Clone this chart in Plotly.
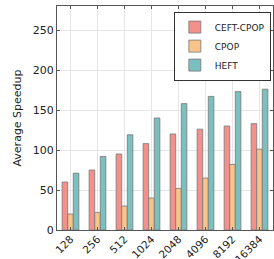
import plotly.graph_objects as go

categories = ["128", "256", "512", "1024", "2048", "4096", "8192", "16384"]
ceft_cpop = [60, 75, 95, 108, 120, 126, 130, 133]
cpop = [20, 22, 30, 40, 52, 65, 82, 101]
heft = [71, 92, 119, 140, 158, 167, 173, 176]

series = [
    ("CEFT-CPOP", ceft_cpop, "#F4908C"),
    ("CPOP", cpop, "#F9C48A"),
    ("HEFT", heft, "#7CBFBF"),
]

fig = go.Figure()
for name, vals, color in series:
    fig.add_trace(go.Bar(
        x=categories, y=vals, name=name,
        marker=dict(color=color, line=dict(color="#777777", width=0.8)),
    ))

fig.update_layout(
    width=274, height=259,
    margin=dict(l=57, r=1, t=6, b=29, autoexpand=False),
    paper_bgcolor="white", plot_bgcolor="white",
    barmode="group", bargap=0.38, bargroupgap=0,
    font=dict(family="DejaVu Sans", size=11, color="#222222"),
    showlegend=True,
    legend=dict(
        x=0.99, y=0.975, xanchor="right", yanchor="top",
        bgcolor="white", bordercolor="#333333", borderwidth=1,
        font=dict(size=9), tracegroupgap=0, itemwidth=30,
    ),
)
fig.update_xaxes(
    type="category", range=[-0.5, 7.5],
    tickangle=-45, tickfont=dict(size=10.5), ticklabelstandoff=-2,
    showgrid=True, gridcolor="#e6e6e6", gridwidth=1,
    showline=True, linecolor="#555555", linewidth=1, mirror="ticks",
    ticks="inside", ticklen=3, tickcolor="#555555",
)
fig.update_yaxes(
    range=[0, 280], tickvals=[0, 50, 100, 150, 200, 250],
    tickfont=dict(size=11),
    title=dict(text="Average Speedup", font=dict(size=11), standoff=8),
    showgrid=True, gridcolor="#e6e6e6", gridwidth=1,
    showline=True, linecolor="#555555", linewidth=1, mirror="ticks",
    ticks="inside", ticklen=3, tickcolor="#555555",
    zeroline=False,
)

fig.write_html(
    "out.html",
    config={"displayModeBar": False},
    post_script="document.body.style.margin='0px';document.body.style.overflow='hidden';",
)
